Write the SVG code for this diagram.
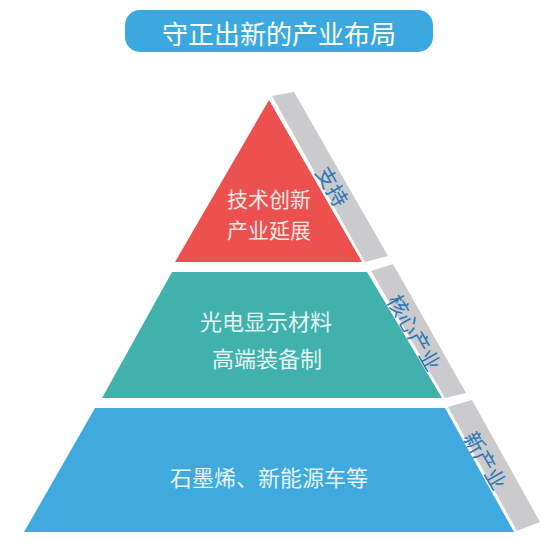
<svg xmlns="http://www.w3.org/2000/svg" width="553" height="554" viewBox="0 0 553 554">
<style>
text{font-family:"Noto Sans CJK SC","Noto Sans",sans-serif;text-anchor:middle;dominant-baseline:central}
.side{fill:#cbcbcd}
.lbl{fill:#2d76b6;font-size:21px}
.in{font-size:22px}
.in2{font-size:21px}
</style>
<rect width="553" height="554" fill="#ffffff"/>
<g id="title">
<rect x="125" y="10" width="308" height="42" rx="15" fill="#3ba9df"/>
<text x="279" y="32" font-size="26" fill="#ffffff">守正出新的产业布局</text>
</g>
<g id="layer-top">
<polygon points="269,100 362,262 175,262" fill="#ec5150"/>
<polygon class="side" points="272,96 294,92 388,256 365,262"/>
<text class="in2" x="269" y="198" fill="#fbe8e6">技术创新</text>
<text class="in2" x="269" y="229" fill="#fbe8e6">产业延展</text>
<text class="lbl" transform="translate(333,186) rotate(60)">支持</text>
</g>
<g id="layer-middle">
<polygon points="172,272 367,272 442,398 102,398" fill="#40b1ad"/>
<polygon class="side" points="371,271 393,264 466,393 445,398"/>
<text class="in" x="266" y="320" fill="#e2f6f4">光电显示材料</text>
<text class="in" x="267" y="357" fill="#e2f6f4">高端装备制</text>
<text class="lbl" transform="translate(415,332) rotate(60)">核心产业</text>
</g>
<g id="layer-bottom">
<polygon points="95,408 445,408 514,532 24,532" fill="#40aadf"/>
<polygon class="side" points="448,407 472,400 540,522 517,531"/>
<text class="in" x="269" y="476" fill="#e4f4fb">石墨烯、新能源车等</text>
<text class="lbl" transform="translate(486,460) rotate(60)">新产业</text>
</g>
<g id="connectors"/>
</svg>
